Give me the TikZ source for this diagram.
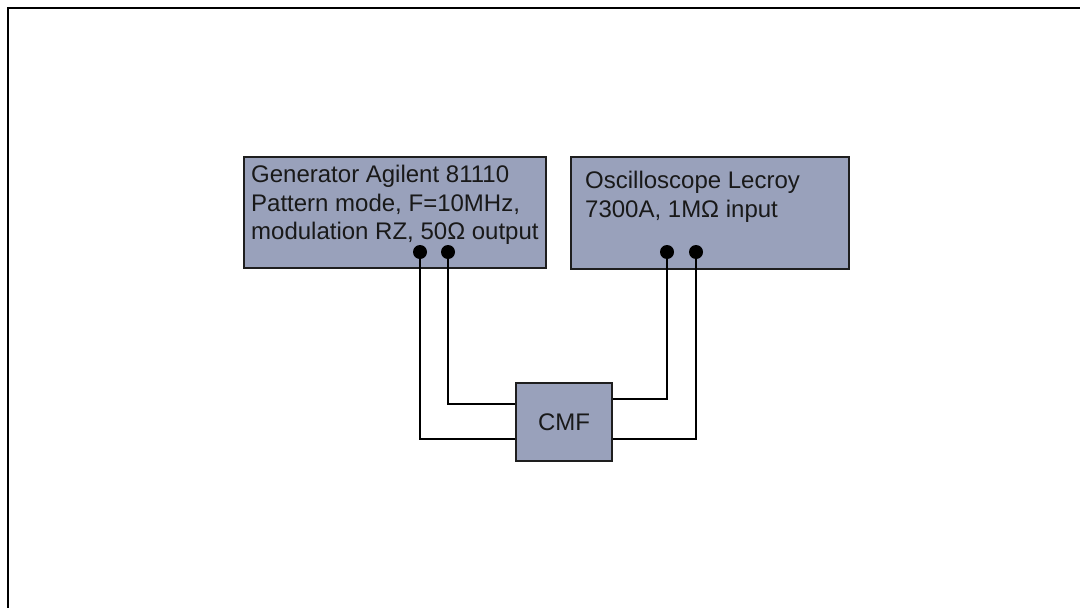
\documentclass[tikz,border=0pt]{standalone}
\usepackage{fontspec}
\setmainfont{Liberation Sans}
\definecolor{boxfill}{RGB}{153,161,187}
\definecolor{edge}{RGB}{30,30,30}
\begin{document}
\begin{tikzpicture}[x=1pt,y=-1pt,
  devbox/.style={draw=edge,line width=2.4pt,fill=boxfill,inner sep=0pt},
  lbl/.style={anchor=north west,inner sep=0pt,align=left,text=black!90,font=\fontsize{24}{28.5}\selectfont},
  port/.style={circle,fill=black,inner sep=0pt,minimum size=14pt},
  wire/.style={draw=black,line width=1.6pt}]
\useasboundingbox (0,0) rectangle (1080,608);
\draw[line width=2.5pt] (8,640) -- (8,8) -- (1100,8);
% boxes
\node[devbox,minimum width=302pt,minimum height=111pt] (gen) at (395,212.5) {};
\node[devbox,minimum width=278pt,minimum height=112pt] (osc) at (710,213) {};
\node[devbox,minimum width=96pt,minimum height=78pt,font=\fontsize{24}{28}\selectfont,text=black!90] (cmf) at (564,422) {CMF};
\node[lbl] (gentxt) at (251,165) {Generator Agilent 81110\\Pattern mode, F=10MHz,\\modulation RZ, 50Ω output};
\node[lbl] (osctxt) at (585,171) {Oscilloscope Lecroy\\7300A, 1MΩ input};
% ports
\node[port] (g1) at (420,252) {};
\node[port] (g2) at (448,252) {};
\node[port] (o1) at (667,252) {};
\node[port] (o2) at (696,252) {};
% wires
\draw[wire] (g1.center) |- ([yshift=-17pt]cmf.west);
\draw[wire] (g2.center) |- ([yshift=18pt]cmf.west);
\draw[wire] (o1.center) |- ([yshift=23pt]cmf.east);
\draw[wire] (o2.center) |- ([yshift=-17pt]cmf.east);
\end{tikzpicture}
\end{document}
